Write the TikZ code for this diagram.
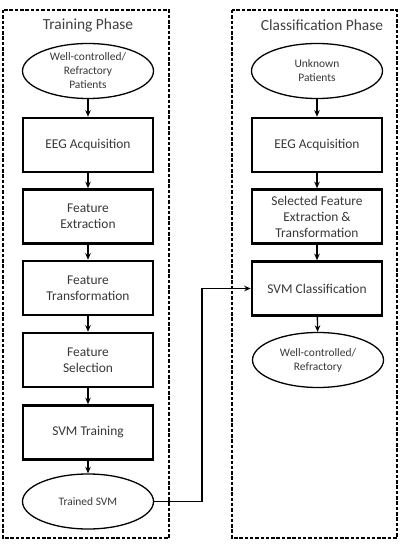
\documentclass[tikz,border=0pt]{standalone}
\usepackage{fontspec}
\setmainfont{Carlito}
\usetikzlibrary{shapes.geometric,arrows.meta}
\begin{document}
\begin{tikzpicture}[x=1bp,y=-1bp,
  stepbox/.style={draw=black,line width=2.6bp,minimum width=130bp,minimum height=54bp,inner sep=0pt,align=center,text=black!78,font=\fontsize{13.5}{16}\selectfont},
  oval/.style={ellipse,draw=black,line width=1.3bp,minimum width=131bp,minimum height=55bp,inner sep=0pt,align=center,text=black!78,font=\fontsize{11.5}{14}\selectfont},
  phase/.style={draw=black,line width=2bp,dash pattern=on 3.5bp off 1.8bp},
  ptitle/.style={text=black!75,font=\fontsize{15.5}{18}\selectfont},
  arr/.style={draw=black,line width=1.4bp,-{Stealth[length=6.5bp,width=5.5bp]}}
]
\useasboundingbox (0,0) rectangle (400,549);
\fill[white] (0,0) rectangle (400,549);
% phase frames
\draw[phase] (3,10) rectangle (169,538);
\draw[phase] (232,10) rectangle (397,538);
\node[ptitle] (t1) at (88,25) {Training Phase};
\node[ptitle] (t2) at (322,25) {Classification Phase};
% left column
\node[oval] (p1) at (88,71) {Well-controlled/\\Refractory\\Patients};
\node[stepbox] (e1) at (88,145) {EEG Acquisition};
\node[stepbox] (fe) at (88,216.5) {Feature\\Extraction};
\node[stepbox] (ft) at (88,288) {Feature\\Transformation};
\node[stepbox] (fs) at (88,360) {Feature\\Selection};
\node[stepbox] (st) at (88,432.5) {SVM Training};
\node[oval] (ts) at (88,501.5) {Trained SVM};
% right column
\node[oval] (p2) at (317,71) {Unknown\\Patients};
\node[stepbox] (e2) at (317,145) {EEG Acquisition};
\node[stepbox] (sf) at (317,216.5) {Selected Feature\\Extraction \&\\Transformation};
\node[stepbox] (sc) at (317,288.5) {SVM Classification};
\node[oval] (out) at (318,360) {Well-controlled/\\Refractory};
% arrows
\draw[arr] (p1) -- (e1);
\draw[arr] (e1) -- (fe);
\draw[arr] (fe) -- (ft);
\draw[arr] (ft) -- (fs);
\draw[arr] (fs) -- (st);
\draw[arr] (st) -- (ts);
\draw[arr] (p2) -- (e2);
\draw[arr] (e2) -- (sf);
\draw[arr] (sf) -- (sc);
\draw[arr] (sc) -- (out);
\coordinate (bend) at (202,288.5);
\draw[arr] (ts.east) -| (bend) -- (sc.west);
\end{tikzpicture}
\end{document}
